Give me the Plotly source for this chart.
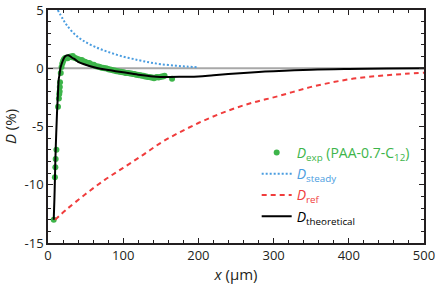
import plotly.graph_objects as go

# Experimental data D_exp (x in µm, D in %)
exp_x = [7.6, 9.2, 9.8, 10.2, 11.2, 13.3, 14.5, 15.0, 15.5, 15.7, 16.0, 17.0, 18.0, 19.0, 20.0, 21.0,
         22.5, 24.0, 26.0, 28.0, 30.0, 32.0, 33.0, 35.0, 37.0, 39.0, 41.0, 43.0, 45.0, 47.0, 49.0,
         51.0, 53.0, 55.0, 57.0, 59.0, 61.0, 63.0, 65.0, 67.0, 69.0, 71.0, 73.0, 75.0, 77.0, 79.0,
         81.0, 83.0, 85.0, 87.0, 89.0, 91.0, 93.0, 95.0, 97.0, 99.0, 101.0, 103.0, 105.0, 107.0,
         109.0, 111.0, 113.0, 115.0, 117.0, 119.0, 121.0, 123.0, 125.0, 127.0, 129.0, 131.0, 133.0,
         135.0, 137.0, 139.0, 141.0, 143.0, 145.0, 147.0, 149.0, 151.0, 153.0, 155.0, 165.0]
exp_d = [-13.0, -9.35, -8.5, -7.8, -7.0, -3.3, -2.6, -2.2, -2.0, -1.6, -1.2, -0.4, 0.1, 0.4, 0.6, 0.75,
         0.85, 0.9, 0.85, 0.95, 1.0, 0.95, 1.05, 0.9, 0.85, 0.8, 0.75, 0.7, 0.7, 0.6, 0.55,
         0.5, 0.45, 0.45, 0.35, 0.3, 0.3, 0.2, 0.15, 0.15, 0.1, 0.05, 0.05, 0.0, 0.0, -0.05,
         -0.1, -0.1, -0.15, -0.2, -0.2, -0.25, -0.25, -0.3, -0.3, -0.35, -0.35, -0.4, -0.4, -0.4,
         -0.45, -0.45, -0.5, -0.5, -0.55, -0.55, -0.6, -0.6, -0.65, -0.65, -0.7, -0.7, -0.75,
         -0.75, -0.8, -0.8, -0.85, -0.8, -0.75, -0.8, -0.75, -0.7, -0.7, -0.65, -0.9]

# D_steady
steady_x = [13, 20, 25, 35, 46, 62, 80, 100, 120, 135, 150, 170, 185, 200]
steady_d = [5.0, 4.2, 3.7, 2.95, 2.4, 1.85, 1.4, 1.0, 0.7, 0.5, 0.35, 0.22, 0.14, 0.08]

# D_ref
ref_x = [9.3, 25, 50, 75, 100, 125, 150, 175, 200, 225, 250, 275, 300, 325, 350, 375, 400, 425, 450, 475, 500]
ref_d = [-13.0, -12.1, -10.8, -9.6, -8.55, -7.5, -6.4, -5.5, -4.7, -4.0, -3.4, -2.9, -2.5, -2.05, -1.6,
         -1.25, -0.95, -0.75, -0.6, -0.48, -0.38]

# D_theoretical
theo_x = [7.6, 8.5, 9.3, 9.8, 11, 12, 13, 14.2, 15.2, 16.5, 18, 20, 22, 25, 27, 29, 32, 35, 40, 50, 60,
          70, 85, 100, 120, 140, 160, 180, 200, 220, 250, 280, 300, 350, 400, 450, 500]
theo_d = [-13.0, -11.3, -9.3, -7.9, -5.5, -3.8, -2.5, -1.0, -0.6, 0.0, 0.35, 0.7, 0.95, 1.1, 1.12, 1.05,
          0.9, 0.8, 0.55, 0.3, 0.1, -0.05, -0.2, -0.35, -0.55, -0.7, -0.75, -0.73, -0.7, -0.6, -0.45,
          -0.32, -0.25, -0.12, -0.06, -0.03, 0.0]

x_ticks = [0, 100, 200, 300, 400, 500]
y_ticks = [5, 0, -5, -10, -15]
y_ticktext = ["5", "0", "-5", "-10", "-15"]

GREEN = "#3db54a"
BLUE = "#4a9de0"
RED = "#f03c3c"
BLACK = "#000000"
FONT = "Open Sans, Lato, sans-serif"

fig = go.Figure()

# zero reference line
fig.add_trace(go.Scatter(x=[0, 500], y=[0, 0], mode="lines",
                         line=dict(color="#a8a8a8", width=2), showlegend=False, hoverinfo="skip"))

fig.add_trace(go.Scatter(x=exp_x, y=exp_d, mode="markers",
                         marker=dict(color=GREEN, size=6),
                         name="<span style='color:%s'><i>D</i><sub>exp</sub> (PAA-0.7-C<sub>12</sub>)</span>" % GREEN))
fig.add_trace(go.Scatter(x=steady_x, y=steady_d, mode="lines", line_shape="spline",
                         line=dict(color=BLUE, width=2, dash="2px,2px"),
                         name="<span style='color:%s'><i>D</i><sub>steady</sub></span>" % BLUE))
fig.add_trace(go.Scatter(x=ref_x, y=ref_d, mode="lines", line_shape="spline",
                         line=dict(color=RED, width=2, dash="5px,4px"),
                         name="<span style='color:%s'><i>D</i><sub>ref</sub></span>" % RED))
fig.add_trace(go.Scatter(x=theo_x, y=theo_d, mode="lines", line_shape="spline",
                         line=dict(color=BLACK, width=2),
                         name="<span style='color:%s'><i>D</i><sub>theoretical</sub></span>" % BLACK))

axis_common = dict(showline=True, linecolor="#231f20", linewidth=1.5, mirror="allticks",
                   ticks="inside", ticklen=5, tickwidth=1, tickcolor="#231f20",
                   showgrid=False, zeroline=False, automargin=True,
                   tickfont=dict(family=FONT, size=13, color="#231f20"))

fig.update_xaxes(range=[0, 500], tickvals=x_ticks,
                 minor=dict(dtick=20, ticks="inside", ticklen=3, tickcolor="#231f20"),
                 title=dict(text="<i>x</i> (μm)", standoff=9,
                            font=dict(family=FONT, size=15, color="#231f20")),
                 **axis_common)
fig.update_yaxes(range=[-15, 5], tickvals=y_ticks, ticktext=y_ticktext,
                 minor=dict(dtick=1, ticks="inside", ticklen=3, tickcolor="#231f20"),
                 title=dict(text="<i>D</i> (%)", standoff=6,
                            font=dict(family=FONT, size=15, color="#231f20")),
                 **axis_common)

fig.update_layout(
    width=436, height=284,
    margin=dict(l=48, r=12, t=10, b=41, autoexpand=False),
    paper_bgcolor="white", plot_bgcolor="white",
    showlegend=True,
    legend=dict(x=0.555, y=0.455, xanchor="left", yanchor="top",
                bgcolor="rgba(0,0,0,0)", tracegroupgap=0, itemwidth=30,
                font=dict(family=FONT, size=14, color="#231f20")),
)

fig.write_html("out.html", config={"displayModeBar": False},
               post_script="document.body.style.margin='0px';document.body.style.overflow='hidden';")
